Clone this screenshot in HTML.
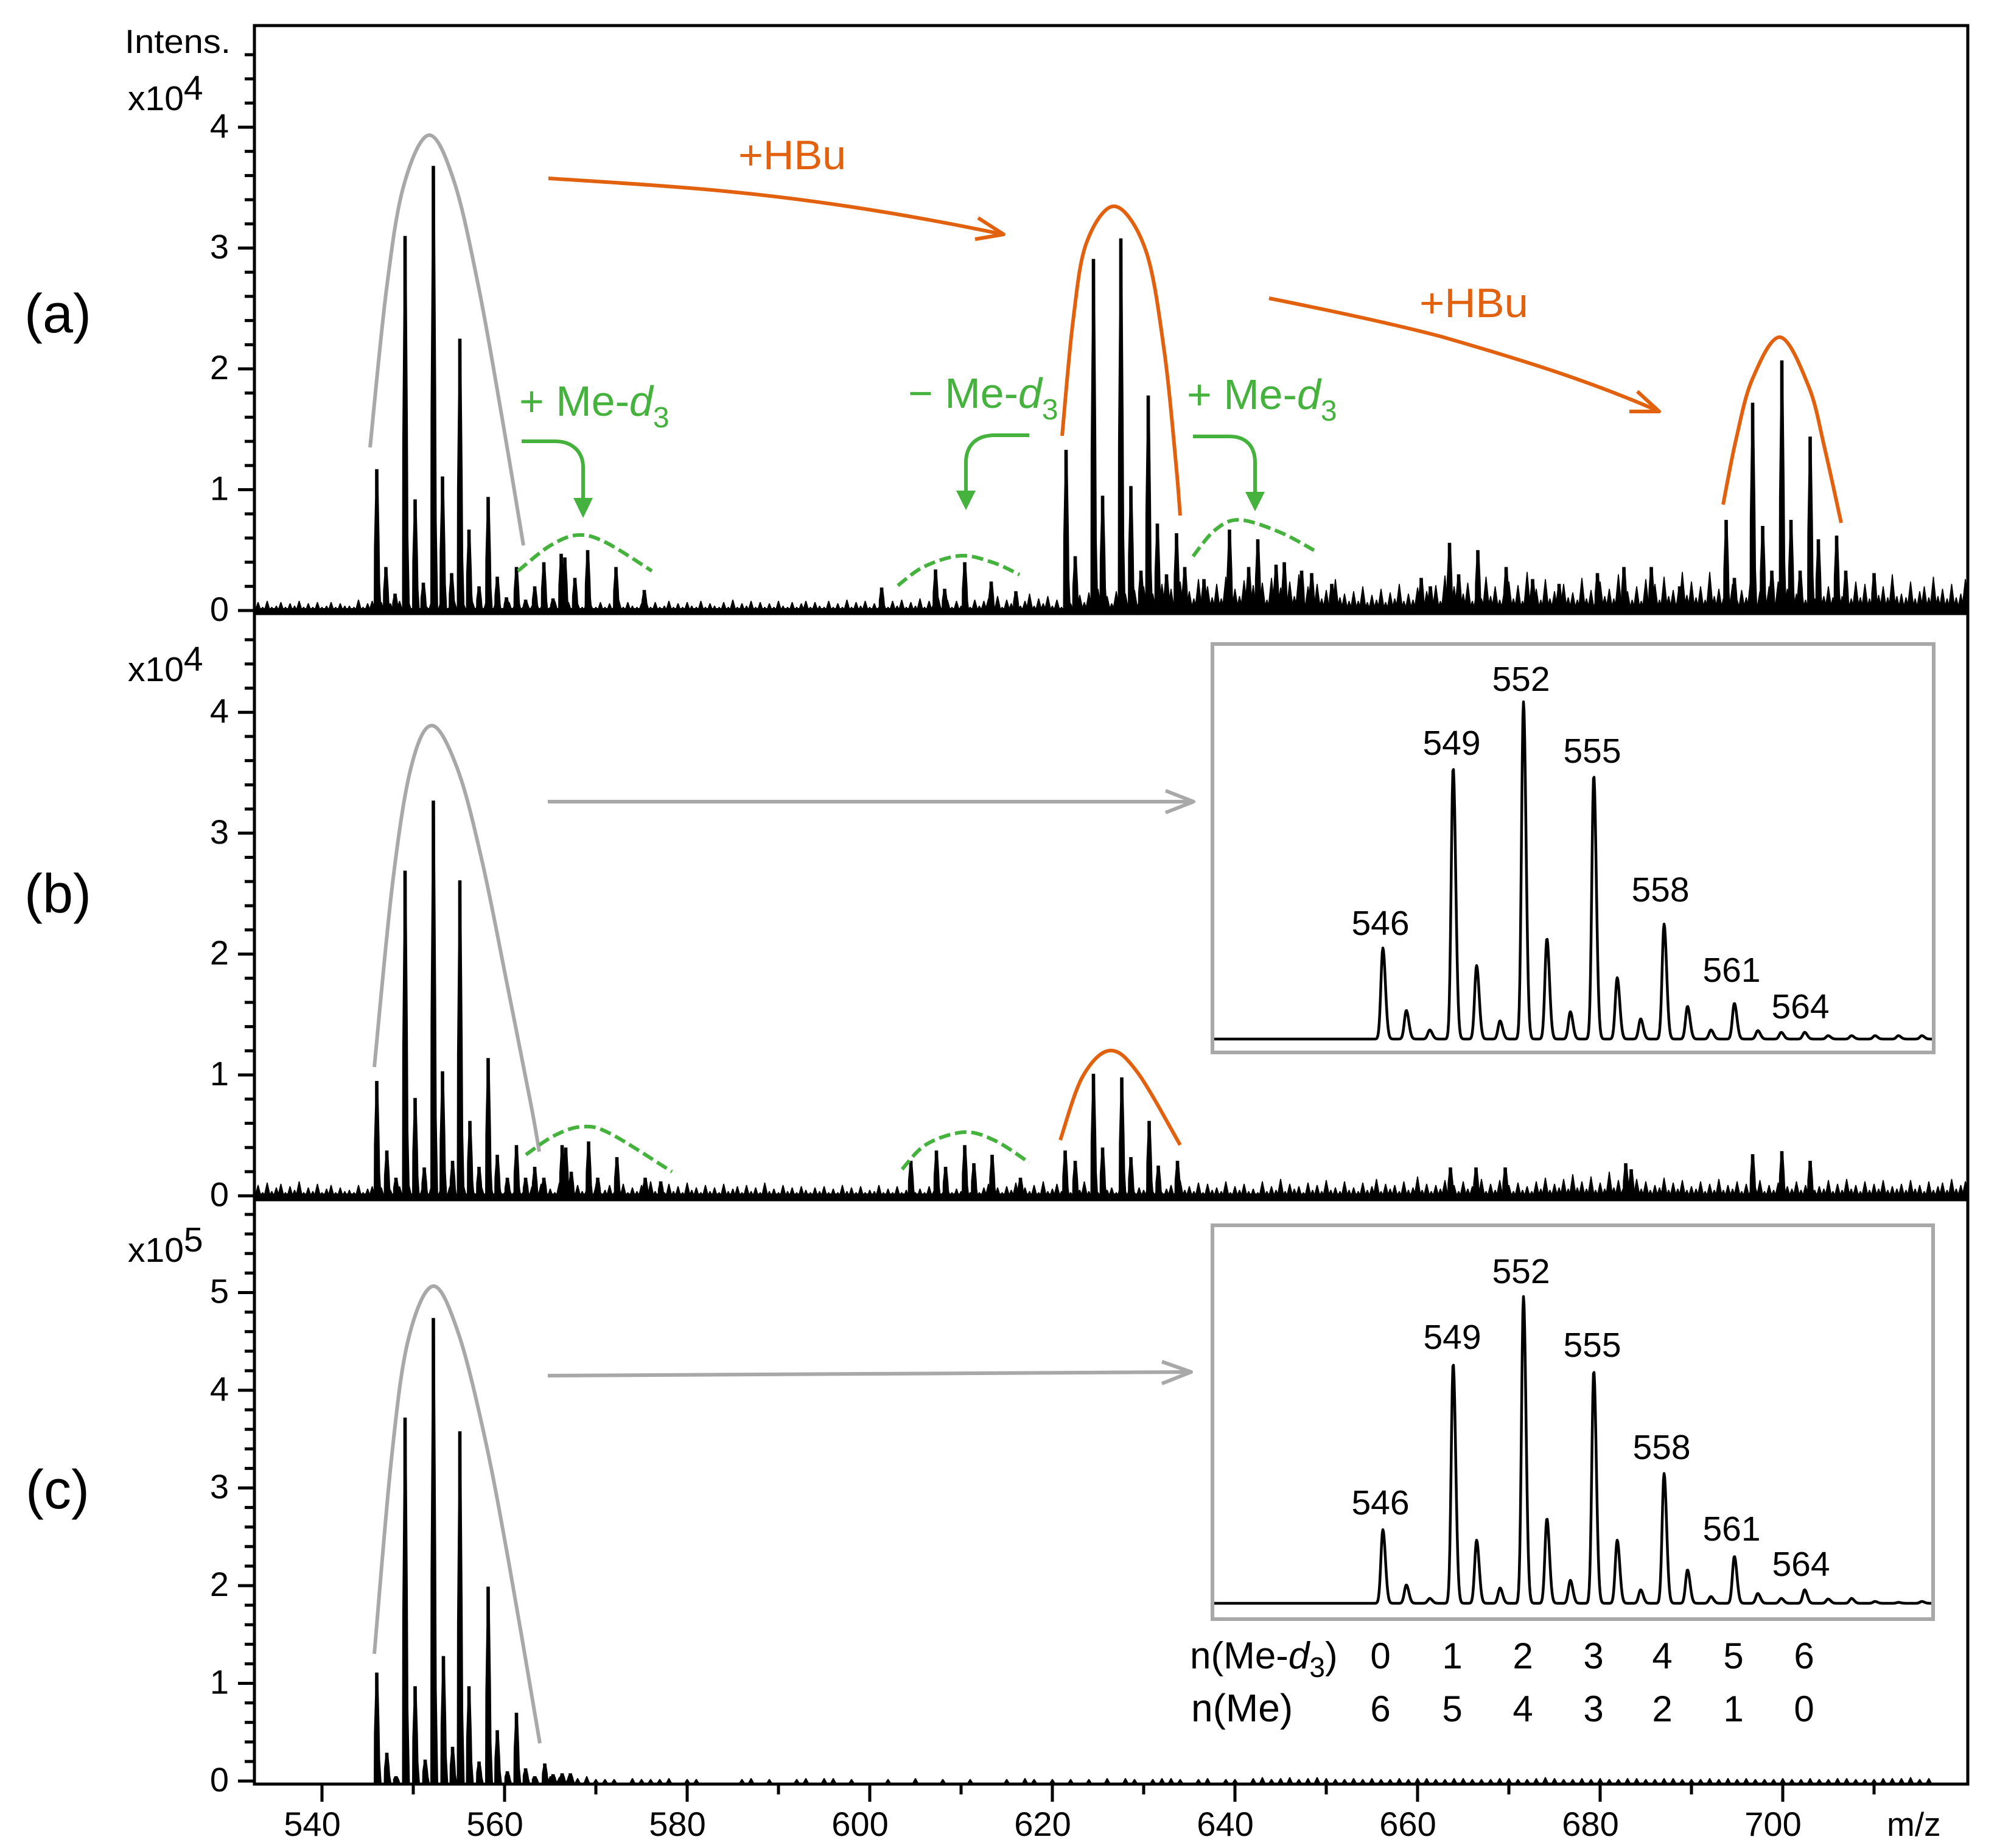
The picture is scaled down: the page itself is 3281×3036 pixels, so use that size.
<!DOCTYPE html>
<html lang="en">
<head>
<meta charset="utf-8">
<title>Mass spectra panels</title>
<style>
html,body{margin:0;padding:0;background:#fff}
svg{display:block;font-family:"Liberation Sans",Arial,sans-serif}
.ann{fill:none;stroke-linecap:butt;stroke-linejoin:round}
.gray{stroke:#a8a8a8;stroke-width:6}
.org{stroke:#e2610f;stroke-width:6}
.grn{stroke:#44b23c;stroke-width:6}
.dash{stroke:#44b23c;stroke-width:6;stroke-dasharray:19 8}
.gt{fill:#44b23c;font-size:70px}
.ot{fill:#e2610f;font-size:68px}
.bt{fill:#000;font-size:56px}
</style>
</head>
<body>
<svg id="chart" xmlns="http://www.w3.org/2000/svg" width="3281" height="3036" viewBox="0 0 3281 3036">
  <defs>
    <clipPath id="plot-clip"><rect x="418" y="42" width="2815" height="2889"/></clipPath>
  </defs>
  <rect x="0" y="0" width="3281" height="3036" fill="#fff"/>
  <g id="spectra" clip-path="url(#plot-clip)"></g>
  <g id="insets"></g>
  <g id="axes"></g>

  <g font-size="90">
    <text x="40" y="546">(a)</text>
    <text x="40" y="1499">(b)</text>
    <text x="42" y="2478">(c)</text>
  </g>
  <g class="bt">
    <text x="205" y="87" font-size="55" textLength="174" lengthAdjust="spacingAndGlyphs">Intens.</text>
    <text x="210" y="181" font-size="57">x10<tspan dy="-17">4</tspan></text>
    <text x="210" y="1119" font-size="57">x10<tspan dy="-17">4</tspan></text>
    <text x="210" y="2073" font-size="57">x10<tspan dy="-17">5</tspan></text>
    <text x="3100" y="3016" font-size="55">m/z</text>
  </g>

  <g>
    <path class="ann gray smooth" data-pts="608,735 635,475 663,306 705,222 747,301 787,475 825,687 860,896"/>
    <path class="ann org smooth" data-pts="1745,716 1763,527 1785,399 1832,339 1883,413 1913,578 1932,761 1939,847"/>
    <path class="ann org smooth" data-pts="2831,829 2852,723 2879,623 2925,554 2972,636 2998,737 3025,859"/>
    <path class="ann dash smooth" data-pts="851,938 903,897 949,879 995,891 1071,938"/>
    <path class="ann dash smooth" data-pts="1475,962 1518,931 1578,913 1631,924 1675,944"/>
    <path class="ann dash smooth" data-pts="1960,914 1996,871 2036,854 2102,874 2159,904"/>
    <path class="ann org" d="M901 293 C1010 300 1110 306 1200 315 C1345 329 1490 352 1648 385 M1607 358 L1649 385 L1602 393"/>
    <path class="ann org" d="M2085 490 C2210 515 2300 535 2368 553 C2490 588 2610 625 2724 675 M2690 643 L2726 676 L2677 676"/>
    <text class="ot" x="1213" y="278" textLength="177" lengthAdjust="spacingAndGlyphs">+HBu</text>
    <text class="ot" x="2332" y="521" textLength="179" lengthAdjust="spacingAndGlyphs">+HBu</text>
    <text class="gt" x="853" y="683">+ Me-<tspan font-style="italic">d</tspan><tspan font-size="48" dy="19">3</tspan></text>
    <text class="gt" x="1492" y="670">− Me-<tspan font-style="italic">d</tspan><tspan font-size="48" dy="19">3</tspan></text>
    <text class="gt" x="1950" y="672">+ Me-<tspan font-style="italic">d</tspan><tspan font-size="48" dy="19">3</tspan></text>
    <path class="ann grn" d="M857 725 L912 725 C940 725 958 742 958 768 L958 824"/>
    <polygon fill="#44b23c" points="942,818 974,818 958,851"/>
    <path class="ann grn" d="M1691 715 L1635 715 C1605 715 1589 730 1587 756 L1587 810"/>
    <polygon fill="#44b23c" points="1571,806 1603,806 1587,838"/>
    <path class="ann grn" d="M1960 717 L2020 717 C2048 717 2062 734 2062 760 L2062 812"/>
    <polygon fill="#44b23c" points="2046,808 2078,808 2062,840"/>
  </g>

  <g>
    <path class="ann gray smooth" data-pts="615,1753 645,1451 675,1262 710,1192 753,1267 793,1419 833,1616 873,1818 886,1892"/>
    <path class="ann dash smooth" data-pts="864,1897 910,1866 956,1851 1002,1862 1104,1925"/>
    <path class="ann dash smooth" data-pts="1482,1921 1522,1880 1584,1860 1635,1874 1691,1910"/>
    <path class="ann org smooth" data-pts="1742,1873 1778,1770 1823,1726 1869,1762 1939,1881"/>
    <path class="ann gray" d="M900 1317 L1959 1317 M1915 1299 L1961 1317 L1915 1335"/>
  </g>

  <g>
    <path class="ann gray smooth" data-pts="615,2717 643,2398 670,2204 711,2113 753,2190 797,2364 837,2573 887,2864"/>
    <path class="ann gray" d="M900 2260 L1955 2254 M1909 2237 L1957 2254 L1909 2273"/>
  </g>

  <g font-size="62">
    <text x="1955" y="2741">n(Me-<tspan font-style="italic">d</tspan><tspan font-size="46" dy="14">3</tspan><tspan dy="-14">)</tspan></text>
    <text x="1957" y="2828" font-size="64">n(Me)</text>
  </g>
  <g id="table"></g>
</svg>

<script>
// --- Panel (a) peaks: m/z and intensity (x10^4) ---
const aMz = [546,547,548,549.1,550.2,551.1,552.2,553.2,554.2,555.1,556.1,557.2,558.2,559.2,560.2,561.3,562.3,563.3,564.3,565.3,566.2,566.6,567.7,569.1,572.2,575.3,
 601.3,607.2,608.2,610.4,613.3,616,621.5,622.5,624.5,625.5,627.5,628.6,629.7,630.5,631.5,632.5,633.6,634.5,636.6,639.4,641.5,642.5,644.5,645.4,647.3,648.4,650.6,
 660.4,661.4,663.5,664.5,666.6,669.7,672.6,675.5,679.7,682.6,685.6,688.7,693.8,694.7,696.7,697.8,698.8,699.9,700.9,701.9,703,703.9,705.9,706.9,710];
const aInt = [1.17,0.36,0.14,3.1,0.92,0.23,3.68,1.11,0.31,2.25,0.67,0.2,0.94,0.28,0.11,0.36,0.09,0.2,0.4,0.1,0.47,0.44,0.27,0.5,0.36,0.17,
 0.19,0.34,0.18,0.4,0.24,0.16,1.33,0.45,2.91,0.95,3.08,1.03,0.33,1.78,0.72,0.3,0.64,0.36,0.26,0.67,0.36,0.59,0.38,0.4,0.33,0.31,0.22,
 0.27,0.2,0.56,0.3,0.5,0.36,0.26,0.22,0.31,0.36,0.36,0.2,0.75,0.27,1.72,0.7,0.33,2.07,0.75,0.33,1.44,0.59,0.62,0.33,0.31];
// --- Panel (b) peaks (x10^4) ---
const bMz = [546,547.1,548.1,549.1,550.2,551.2,552.2,553.2,554.3,555.1,556.2,557.2,558.2,559.2,560.3,561.3,562.3,563.3,564.3,566.3,566.7,567.3,569.2,570.2,572.3,575.4,577.1,
 604.5,607.3,608.3,610.4,611.4,613.4,616.5,621.4,622.5,624.5,625.5,627.6,628.6,630.6,631.6,633.7,663.6,666.4,669.6,682.8,683.4,696.7,699.9,703];
const bInt = [0.95,0.375,0.15,2.69,0.81,0.235,3.27,1.03,0.29,2.61,0.62,0.24,1.14,0.34,0.15,0.42,0.15,0.24,0.15,0.42,0.4,0.2,0.45,0.15,0.32,0.15,0.12,
 0.29,0.375,0.24,0.42,0.27,0.34,0.15,0.375,0.29,1.01,0.4,0.98,0.32,0.62,0.25,0.29,0.235,0.235,0.235,0.27,0.22,0.345,0.37,0.29];
// --- Panel (c) peaks (x10^5) ---
const cMz = [546,547.1,548.1,549.1,550.2,551.3,552.2,553.3,554.3,555.1,556.1,557.2,558.2,559.2,560.3,561.3,562.3,563.3,564.4,565.3,566.3,567.2];
const cInt = [1.11,0.29,0.05,3.72,0.97,0.22,4.74,1.28,0.35,3.58,0.97,0.2,1.99,0.52,0.1,0.7,0.13,0.05,0.18,0.07,0.08,0.08];
// --- Baseline noise, hundredths of the axis unit, one sample per half m/z from 533 ---
const aNoise = [7,3,8,3,4,7,3,6,4,8,3,6,3,7,3,4,7,3,6,4, 4,3,9,3,6,8,3,7,3,6,4,8,3,7,3,4,6,3,8,4,
 7,3,4,8,3,6,3,7,4,3,8,3,6,3,4,7,3,9,3,6, 4,7,3,6,3,8,3,4,7,3,6,3,8,4,3,7,3,6,4,9,
 3,7,4,3,6,8,3,7,3,4,8,3,6,3,7,4,3,8,3,6, 4,3,7,3,9,3,6,4,8,3,7,3,6,3,8,4,3,7,3,6,
 8,3,7,4,3,8,3,6,3,9,3,7,4,8,3,6,3,7,3,8, 4,9,3,7,4,10,3,8,6,11,4,9,3,8,4,10,3,9,4,8,
 10,4,12,3,9,6,11,4,8,14,4,10,6,12,4,9,3,11,6,8, 13,7,15,6,18,8,12,6,16,9,14,7,17,8,20,7,14,9,22,8,
 18,10,24,8,16,10,26,9,20,11,22,10,28,9,18,12,25,10,21,11, 23,9,27,11,19,10,24,12,30,9,20,11,22,10,17,9,26,11,14,8,
 16,8,20,7,13,9,18,7,15,10,22,8,14,9,19,7,16,10,21,8, 29,9,20,11,14,23,8,18,10,28,12,20,9,16,24,10,21,8,32,11,
 18,9,26,10,16,8,22,11,15,9,27,10,17,8,24,12,18,10,30,11, 16,9,20,8,26,11,22,9,28,12,17,10,32,13,24,11,20,9,32,12,
 18,10,14,22,9,17,11,28,10,16,9,20,8,24,11,18,10,14,22,9, 16,10,26,12,20,11,32,12,17,10,24,11,22,10,28,13,20,11,30,12,
 14,11,24,10,16,20,11,28,12,18,10,22,11,14,26,10,19,11,24,12];
const bNoise = [9,3,11,4,7,10,3,8,5,12,3,7,4,10,3,6,9,3,7,4, 5,3,9,3,6,8,3,7,3,5,4,8,3,10,3,5,7,3,9,4,
 6,3,8,5,3,9,3,6,3,7,3,8,3,5,3,7,3,9,3,5, 8,3,10,4,6,3,11,4,7,3,9,4,6,3,8,3,5,9,3,7,
 10,3,7,4,9,3,12,4,6,3,10,4,8,3,11,5,7,3,9,4, 7,3,10,4,6,8,3,9,4,7,3,11,4,6,3,9,4,7,3,8,
 5,3,7,4,8,3,6,3,9,4,7,3,8,3,5,4,9,3,6,3, 8,3,5,7,3,6,3,8,4,5,3,7,3,6,4,9,3,5,3,7,
 10,4,7,3,8,5,11,3,7,4,9,3,12,4,6,10,4,8,3,7, 5,12,4,8,3,10,5,7,3,11,4,9,3,7,5,10,4,8,3,6,
 9,4,13,5,8,4,11,3,10,5,7,4,12,3,8,5,10,4,6,3, 12,4,8,5,14,4,10,6,8,3,11,5,9,4,13,5,7,4,12,5,
 7,4,11,5,8,14,4,10,6,9,4,12,5,7,16,5,10,4,9,6, 13,5,9,4,12,6,8,5,14,4,10,5,13,6,9,4,11,5,8,4,
 12,6,15,5,10,7,14,6,18,7,12,6,16,5,11,6,20,7,13,6, 10,5,14,6,12,5,9,7,15,5,11,6,13,5,8,6,12,4,10,5,
 14,5,9,6,12,4,10,5,7,13,4,9,5,11,4,8,6,12,5,9, 11,5,8,6,13,4,10,5,14,6,9,4,12,5,10,6,13,5,8,6,
 10,5,13,6,9,4,12,5,8,11,5,14,6,9,12,5,10,6,13,5];
// one sample per m/z from 565 (x10^5 hundredths)
const cNoise = [5,4,4,3,5,2,2,2,0,3,2,2,2,3,0,2,2,0,0,0,0,2,3,0,2,0,0,2,3,0,3,3,0,2,0,0,0,2,0,0,3,0,0,2,0,0,2,0,0,0,
 2,0,3,2,0,2,0,2,0,2,0,3,0,3,2,0,2,3,3,2,0,2,3,0,2,2,0,3,4,2,3,4,2,3,4,3,2,2,3,2,3,2,2,3,2,3,3,2,2,3,
 3,2,2,2,3,3,2,2,3,4,3,2,2,3,2,3,2,2,3,3,2,2,3,3,2,2,2,3,2,3,2,3,2,2,2,3,2,2,3,2,2,3,3,2,2,2,3,3,3,4,2,3];
// --- Inset intensities, relative to the m/z 552 peak ---
const insetMasses = [546,547,548,549,550,551,552,553,554,555,556,557,558,559,560,561,562,563,564,565,566,567,568,569,570];
const insetB = [27,8.5,2.7,80.5,21.8,5.4,100,29.8,8.1,78.2,18.2,6,34.1,9.7,2.7,10.6,2.5,2,2,1,1,1,1,1,0];
const insetC = [24,6,1.6,78.2,20.6,5,100,27.6,7.5,75.8,20.6,4.4,42.3,10.9,2.2,15.3,3.2,1.6,4.4,1.4,1.6,0.6,0.3,0.6,0.6];
const insetPeakLabels = ['546','549','552','555','558','561','564'];
// --- Axis tick labels ---
const aTicks = ['0','1','2','3','4'];
const bTicks = ['0','1','2','3','4'];
const cTicks = ['0','1','2','3','4','5'];
const xTickLabels = ['540','560','580','600','620','640','660','680','700'];
const nMeD3 = ['0','1','2','3','4','5','6'];
const nMe = ['6','5','4','3','2','1','0'];

const NS = 'http://www.w3.org/2000/svg';
const spectra = document.getElementById('spectra');
const insets = document.getElementById('insets');
const axes = document.getElementById('axes');
const table = document.getElementById('table');

function add(parent, tag, name, props, text) {
  const el = document.createElementNS(NS, tag);
  
  
  for (const k of Object.keys(props)) el.setAttribute(k, props[k]);
  if (text !== undefined) el.textContent = text;
  parent.appendChild(el);
  return el;
}

// Smooth the annotation envelopes (Catmull-Rom through the points in markup)
document.querySelectorAll('path.smooth').forEach(p => {
  const pts = p.getAttribute('data-pts').trim().split(/\s+/).map(s => s.split(',').map(Number));
  let d = 'M' + pts[0][0] + ' ' + pts[0][1];
  for (let i = 0; i < pts.length - 1; i++) {
    const a = pts[Math.max(i - 1, 0)], b = pts[i], c = pts[i + 1], e = pts[Math.min(i + 2, pts.length - 1)];
    d += 'C' + (b[0] + (c[0] - a[0]) / 6).toFixed(1) + ' ' + (b[1] + (c[1] - a[1]) / 6).toFixed(1) + ' ' +
      (c[0] - (e[0] - b[0]) / 6).toFixed(1) + ' ' + (c[1] - (e[1] - b[1]) / 6).toFixed(1) + ' ' + c[0] + ' ' + c[1];
  }
  p.setAttribute('d', d);
});

const FRAME_L = 418, FRAME_R = 3233, FRAME_T = 42;
const x = mz => 529 + (mz - 540) * 15;
const yA = v => 1003 - v * 198.5;
const yB = v => 1964.6 - v * 198.6;
const yC = v => 2926 - v * 160.5;

function drawPeaks(name, mzs, ints, y, base) {
  let d = '';
  mzs.forEach((m, i) => {
    const X = x(m), v = ints[i];
    d += 'M' + (X - 5).toFixed(1) + ' ' + base +
      'L' + (X - 4.6).toFixed(1) + ' ' + y(v * 0.45).toFixed(1) +
      'L' + (X - 2.8).toFixed(1) + ' ' + y(v * 0.8).toFixed(1) +
      'L' + (X - 2.8).toFixed(1) + ' ' + y(v).toFixed(1) +
      'L' + (X + 2.8).toFixed(1) + ' ' + y(v).toFixed(1) +
      'L' + (X + 3).toFixed(1) + ' ' + y(v * 0.85).toFixed(1) +
      'L' + (X + 4.6).toFixed(1) + ' ' + y(v * 0.5).toFixed(1) +
      'L' + (X + 5.5).toFixed(1) + ' ' + y(v * 0.2).toFixed(1) +
      'L' + (X + 8).toFixed(1) + ' ' + base + 'Z';
  });
  add(spectra, 'path', name, {d: d, fill: '#000'});
}

function drawNoise(name, values, start, step, y, base) {
  let d = '';
  values.forEach((v, i) => {
    if (v <= 0) return;
    const X = x(start + i * step), w = step < 1 ? 7 : 6;
    d += 'M' + (X - w).toFixed(1) + ' ' + base +
      'L' + (X - 0.8).toFixed(1) + ' ' + y(v / 100).toFixed(1) +
      'L' + (X + 0.8).toFixed(1) + ' ' + y(v / 100).toFixed(1) +
      'L' + (X + w).toFixed(1) + ' ' + base + 'Z';
  });
  add(spectra, 'path', name, {d: d, fill: '#000'});
}

function drawBand(name, y, base, level) {
  add(spectra, 'rect', name, {x: FRAME_L, y: y(level).toFixed(1), width: FRAME_R - FRAME_L, height: (base - y(level)).toFixed(1), fill: '#000'});
}

drawNoise('noise-a', aNoise, 533, 0.5, yA, 1008);
drawPeaks('peaks-a', aMz, aInt, yA, 1008);
drawBand('baseline-a', yA, 1008, 0.02);
drawNoise('noise-b', bNoise, 533, 0.5, yB, 1971);
drawPeaks('peaks-b', bMz, bInt, yB, 1971);
drawBand('baseline-b', yB, 1971, 0.02);
drawNoise('noise-c', cNoise, 565, 1, yC, 2931);
drawPeaks('peaks-c', cMz, cInt, yC, 2931);

// Insets
const insetX = m => 2272 + (m - 546) * 38.5;
function drawInset(name, values, box, base, scale, labels) {
  add(insets, 'rect', name + '-frame', {x: box[0], y: box[1], width: box[2] - box[0], height: box[3] - box[1], fill: '#fff', stroke: '#a8a8a8', 'stroke-width': 6});
  let pts = [];
  for (let X = box[0] + 3; X <= box[2] - 3; X += 1) {
    let h = 0;
    insetMasses.forEach((m, i) => {
      const d = X - insetX(m), s = d < 0 ? 3.2 : 4.2;
      h += values[i] * scale * Math.exp(-d * d / (2 * s * s));
    });
    pts.push(X + ',' + (base - h).toFixed(1));
  }
  add(insets, 'polyline', name + '-trace', {points: pts.join(' '), fill: 'none', stroke: '#000', 'stroke-width': 4.5, 'stroke-linejoin': 'round'});
  insetPeakLabels.forEach((t, i) => {
    add(insets, 'text', name + '-label-' + t, {x: labels[i][0], y: labels[i][1], 'text-anchor': 'middle', 'font-size': 57}, t);
  });
}
drawInset('inset-b', insetB, [1992, 1058, 3177, 1729], 1707, 5.54,
  [[2268,1536],[2385,1240],[2499,1135],[2616,1253],[2728,1481],[2845,1613],[2958,1673]]);
drawInset('inset-c', insetC, [1992, 2013, 3176, 2660], 2634, 5.04,
  [[2268,2488],[2386,2216],[2499,2108],[2616,2229],[2730,2397],[2845,2531],[2959,2589]]);

// Frame and axes
add(axes, 'rect', 'plot-frame', {x: FRAME_L, y: FRAME_T, width: FRAME_R - FRAME_L, height: 2931 - FRAME_T, fill: 'none', stroke: '#000', 'stroke-width': 5});
add(axes, 'line', 'panel-a-x-axis', {x1: FRAME_L, x2: FRAME_R, y1: 1008, y2: 1008, stroke: '#000', 'stroke-width': 5});
add(axes, 'line', 'panel-b-x-axis', {x1: FRAME_L, x2: FRAME_R, y1: 1971, y2: 1971, stroke: '#000', 'stroke-width': 5});

function drawYAxis(prefix, y, labels, maxMinor) {
  for (let k = 0; k <= maxMinor; k++) {
    const v = k / 5, major = k % 5 === 0;
    add(axes, 'line', prefix + '-y-tick', {x1: major ? 391 : 402, x2: FRAME_L, y1: y(v).toFixed(1), y2: y(v).toFixed(1), stroke: '#000', 'stroke-width': 5});
  }
  labels.forEach((t, i) => {
    add(axes, 'text', prefix + '-y-tick-label', {x: 376, y: (y(i) + 17).toFixed(1), 'text-anchor': 'end', 'font-size': 56}, t);
  });
}
drawYAxis('panel-a', yA, aTicks, 23);
drawYAxis('panel-b', yB, bTicks, 23);
drawYAxis('panel-c', yC, cTicks, 29);

xTickLabels.forEach(t => {
  const X = x(Number(t));
  add(axes, 'line', 'x-major-tick', {x1: X, x2: X, y1: 2931, y2: 2960, stroke: '#000', 'stroke-width': 5});
  add(axes, 'text', 'x-tick-label', {x: X - 16, y: 3016, 'text-anchor': 'middle', 'font-size': 56}, t);
});
xTickLabels.forEach(t => {
  const X = x(Number(t) + 10);
  add(axes, 'line', 'x-minor-tick', {x1: X, x2: X, y1: 2931, y2: 2948, stroke: '#000', 'stroke-width': 5});
});

// Count table
const tableX = [2268, 2386, 2502, 2618, 2731, 2848, 2964];
nMeD3.forEach((t, i) => {
  add(table, 'text', 'n-me-d3-value', {x: tableX[i], y: 2741, 'text-anchor': 'middle', 'font-size': 60}, t);
});
nMe.forEach((t, i) => {
  add(table, 'text', 'n-me-value', {x: tableX[i], y: 2828, 'text-anchor': 'middle', 'font-size': 60}, t);
});
</script>
</body>
</html>
